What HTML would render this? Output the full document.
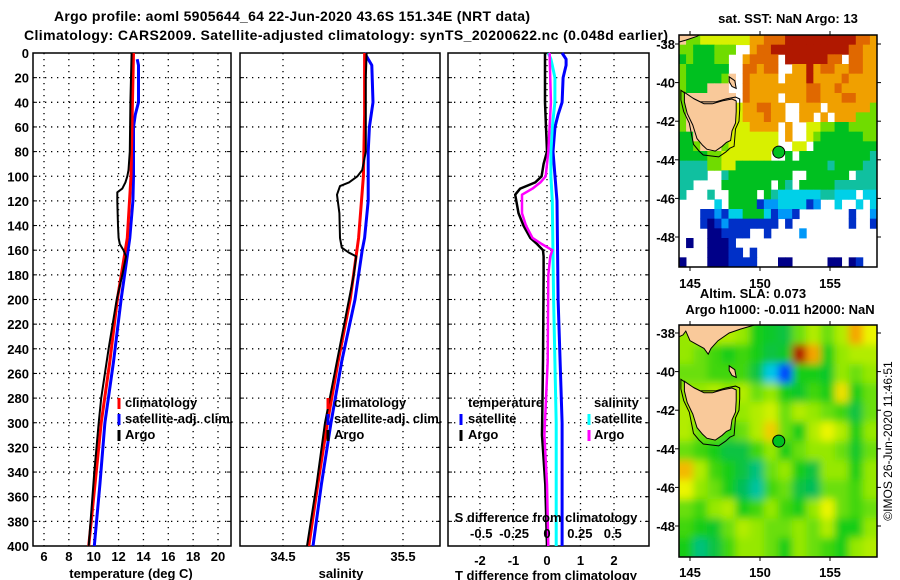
<!DOCTYPE html>
<html><head><meta charset="utf-8"><style>
html,body{margin:0;padding:0;background:#fff;}
svg{display:block;font-family:"Liberation Sans",sans-serif;font-weight:bold;}
</style></head><body>
<svg id="fig" width="900" height="580" viewBox="0 0 900 580" xmlns="http://www.w3.org/2000/svg">
<text x="292" y="21" text-anchor="middle" font-size="14" textLength="476">Argo profile: aoml 5905644_64 22-Jun-2020 43.6S 151.34E (NRT data)</text>
<text x="24" y="40" font-size="14" textLength="644">Climatology: CARS2009. Satellite-adjusted climatology: synTS_20200622.nc (0.048d earlier)</text>
<g id="plots"></g>
<defs>
<clipPath id="m1clip"><rect x="679" y="35" width="198" height="232"/></clipPath>
<clipPath id="m2clip"><rect x="679" y="325" width="198" height="232"/></clipPath>
<filter id="blur" x="-10%" y="-10%" width="120%" height="120%"><feGaussianBlur stdDeviation="4"/></filter>
</defs>
<text x="788" y="23" text-anchor="middle" font-size="13">sat. SST: NaN Argo: 13</text>
<text x="753" y="298" text-anchor="middle" font-size="13">Altim. SLA: 0.073</text>
<text x="780" y="314" text-anchor="middle" font-size="13">Argo h1000: -0.011 h2000: NaN</text>
<text transform="translate(892,441) rotate(-90)" text-anchor="middle" font-size="12" font-weight="normal">©IMOS 26-Jun-2020 11:46:51</text>
</svg>
<script>
// ---- profile data ----
const depthArgoT=[0,40,80,95,100,105,110,113,120,140,150,155,160,165,180,200,240,280,300,340,400];
const tempArgo=[13.05,12.95,12.9,12.8,12.7,12.55,12.3,11.9,11.9,11.95,12.0,12.1,12.4,12.6,12.3,11.85,11.2,10.6,10.4,10.05,9.6];
const depthClim=[0,50,100,150,200,250,300,350,400];
const tempClim=[13.2,13.1,13.0,12.7,11.9,11.3,10.6,10.1,9.6];
const depthSat=[5,10,40,50,60,100,120,150,200,250,300,350,400];
const tempSat=[13.5,13.6,13.6,13.35,13.2,13.2,13.15,12.9,12.2,11.6,10.9,10.5,10.05];
const depthArgoS=[0,20,80,95,100,105,108,115,130,150,158,162,165,180,200,250,300,350,400];
const salArgo=[35.197,35.19,35.19,35.16,35.12,35.05,34.975,34.95,34.97,34.975,34.99,35.05,35.11,35.09,35.05,34.95,34.85,34.78,34.70];
const salClim=[35.18,35.18,35.17,35.13,35.06,34.96,34.87,34.79,34.715];
const depthSatS=[0,10,40,60,80,120,150,160,200,250,300,350,400];
const salSat=[35.18,35.24,35.25,35.22,35.21,35.21,35.18,35.16,35.1,34.99,34.9,34.82,34.75];
const depthDiff=[0,40,60,80,90,100,105,110,115,130,140,150,155,160,165,180,250,310,350,400];
const dTArgo=[-0.06,-0.06,-0.03,0,-0.1,-0.16,-0.35,-0.8,-0.95,-0.85,-0.7,-0.5,-0.3,-0.12,-0.1,-0.1,-0.12,-0.15,-0.05,0];
const dSArgo=[0.02,0.03,0.02,0.01,0,-0.01,-0.05,-0.11,-0.19,-0.19,-0.16,-0.11,-0.04,0.04,0.025,0.01,0.005,-0.02,0,0.01];
const depthDiffSat=[0,5,10,20,40,50,60,80,100,120,200,300,400];
const dTSat=[0.45,0.57,0.57,0.48,0.45,0.33,0.24,0.18,0.24,0.3,0.33,0.45,0.45];
const dSSat=[0.01,0.03,0.04,0.06,0.06,0.05,0.04,0.03,0.03,0.04,0.05,0.07,0.07];
const depthTicks=[0,20,40,60,80,100,120,140,160,180,200,220,240,260,280,300,320,340,360,380,400];
const tempTicks=[6,8,10,12,14,16,18,20];
const salTicks=[34.5,35,35.5];
const dTTicks=[-2,-1,0,1,2];
const dSTicks=[-0.5,-0.25,0,0.25,0.5];
const dSTickLabels=['-0.5','-0.25','0','0.25','0.5'];

// ---- SST map data (0.5deg cells, rows from north) ----
const sstRows=[
"L66777777788999aaaaaaaaaa998",
"66555666  899aaaaaaaaaaa9988",
"5655566  89999 aaaaaa99 9988",
"6555555  99899  88a899889988",
"6555556L 98888 888a888898888",
"6555LLL  9888888889988988888",
"6LLLLLLL 98888 8889988899888",
"6LLLLLLL7889988  888 8888886",
"6LLLLLL77888988  88 8 888666",
"6LLLLLL7778888 8  7766556666",
"55LLLLL7777777 8  7655555566",
"556LLL67777777  77 555555555",
"5555667777777  5 55555555554",
"4444667755555555555554555544",
"4444  4555555555  555555 4444",
"44    5555555 54 555554444444",
"4   4  5555 5433333344333 33",
"     3 5555122333312  3  3 3",
"   11213355531221       1  2",
"   10121111111 1        1  1",
"    001111  1    2          ",
" 0  0001                    ",
"    00011 1                 ",
"0   0001111   00     00 01  "];
const sstColors={'0':'#000088','1':'#0030c8','2':'#0098f8','3':'#00d0e8','4':'#10c0a0','5':'#00c020','6':'#70dc00','7':'#d8f000','8':'#f0a000','9':'#e06800','a':'#b01800','L':'#f9c99a'};

// ---- SLA map data (1deg cells, rows from north) ----
const slaRows=[
[0.15,0.2,0.2,0.2,0.15,0.0,-0.05,-0.1,0.1,0.2,0.1,0.2,0.5,0.3],
[0.15,0.1,0.05,0,0.05,0,-0.1,-0.05,0.95,0.5,0.0,0.15,0.2,0.2],
[0.1,0.1,0.05,0.05,0.05,-0.1,-0.35,-0.6,0.0,0.0,-0.05,0.15,0.1,0.15],
[0.15,0.15,0.2,0.15,0.2,0.1,0.15,0.0,-0.05,0.05,0.0,0.35,0.0,0.1],
[0.2,0.15,0.15,0.15,0.15,0.2,0.25,0.1,0.2,0.15,0.1,0.05,-0.1,0.1],
[0.2,0.1,0.1,0.05,0.1,0.2,0.4,0.1,0.0,0.2,0.3,0.2,0.0,0.15],
[0.1,0.05,0.0,-0.1,-0.1,0.05,0.15,0.0,0.1,0.15,0.15,0.1,-0.05,0.1],
[0.45,0.2,0.05,0.0,-0.1,-0.2,0.1,0.15,0.0,-0.1,0.15,0.15,0.0,0.15],
[0.3,0.15,0.1,0.0,-0.15,-0.25,0.05,0.1,-0.1,-0.15,0.1,0.1,0.05,0.15],
[0.1,0.05,0.15,0.2,0.0,0.05,0.15,0.05,0.0,0.15,0.3,0.1,0.05,0.1],
[0.05,0.0,-0.05,0.1,0.2,0.15,0.1,0.1,0.15,0.1,0.2,0.0,0.0,0.15],
[0.0,-0.2,-0.1,0.05,0.15,0.15,0.1,0.0,0.15,0.1,0.05,0.0,0.15,0.2]];
const tasmania=[[144.6,-40.5],[145.3,-40.85],[146.0,-41.1],[146.6,-41.1],[147.3,-40.95],[148.0,-40.85],[148.3,-40.95],[148.3,-41.5],[148.25,-42.1],[148.0,-42.5],[147.9,-43.0],[147.6,-43.1],[147.3,-43.3],[146.8,-43.55],[146.2,-43.45],[145.9,-43.25],[145.5,-42.9],[145.2,-42.2],[144.8,-41.6],[144.6,-41.0]];
const mainland=[[144.2,-37.4],[144.2,-38.2],[144.5,-38.1],[144.7,-37.9],[145.0,-38.4],[145.5,-38.6],[146.0,-38.8],[146.3,-39.1],[146.5,-38.8],[147.0,-38.4],[147.8,-38.0],[148.6,-37.8],[150.0,-37.5],[150.0,-37.4]];
const mainlandSST=[[144.2,-37.4],[144.2,-37.9],[144.7,-37.8],[145.5,-37.6],[146.0,-37.4]];
const flinders=[[147.8,-39.7],[148.2,-39.9],[148.3,-40.3],[148.0,-40.2],[147.8,-39.95]];
const argoPos=[151.34,-43.6];
const lonTicks=[145,150,155];
const latTicks=[-38,-40,-42,-44,-46,-48];

const NS='http://www.w3.org/2000/svg';
const root=document.getElementById('plots');
function mk(tag,attrs,parent){const e=document.createElementNS(NS,tag);for(const k in attrs)e.setAttribute(k,attrs[k]);(parent||root).appendChild(e);return e;}
const yTop=53,yBot=546;
const yD=d=>yTop+d*(yBot-yTop)/400;
function panel(x0,x1,name){
  const g=mk('g',{});
  
  
  return g;
}
function gridAndFrame(g,x0,x1,xs,fx){
  depthTicks.forEach(d=>{if(d>0&&d<400){const l=mk('line',{x1:x0,x2:x1,y1:yD(d),y2:yD(d),stroke:'#000','stroke-width':1.3,'stroke-dasharray':'1.3,4.7'},g);
    }
    mk('line',{x1:x0,x2:x0+4,y1:yD(d),y2:yD(d),stroke:'#000','stroke-width':1},g);mk('line',{x1:x1-4,x2:x1,y1:yD(d),y2:yD(d),stroke:'#000','stroke-width':1},g);});
  xs.forEach(v=>{const x=fx(v);const l=mk('line',{x1:x,x2:x,y1:yTop,y2:yBot,stroke:'#000','stroke-width':1.3,'stroke-dasharray':'1.3,4.7'},g);
    });
  const r=mk('rect',{x:x0,y:yTop,width:x1-x0,height:yBot-yTop,fill:'none',stroke:'#000','stroke-width':1.5},g);
  
}
function line(g,xs,ds,fx,col,w,name){
  const p=mk('polyline',{points:xs.map((v,i)=>fx(v).toFixed(1)+','+yD(ds[i]).toFixed(1)).join(' '),fill:'none',stroke:col,'stroke-width':w,'stroke-linejoin':'round'},g);
  
}
function txt(g,x,y,s,name,anchor,size,tl){
  const t=mk('text',{x:x,y:y,'font-size':size||13,'text-anchor':anchor||'start'},g);
  if(tl)t.setAttribute('textLength',tl);
  t.textContent=s;return t;
}
function legMark(g,x,y,col){const l=mk('line',{x1:x,x2:x,y1:y-11,y2:y,stroke:col,'stroke-width':3},g);
  }

// Panel 1 temperature
const fT=t=>44+(t-6)*(218-44)/14;
const g1=panel(33,231,'temperature-panel');
gridAndFrame(g1,33,231,tempTicks,fT);
line(g1,tempSat,depthSat,fT,'#0000ff',3,'temp-satellite-line');
line(g1,tempClim,depthClim,fT,'#ff0000',3,'temp-climatology-line');
line(g1,tempArgo,depthArgoT,fT,'#000',2,'temp-argo-line');
depthTicks.forEach(d=>txt(g1,29,yD(d)+5,String(d),'y-tick-label','end'));
tempTicks.forEach(t=>txt(g1,fT(t),561,String(t),'x-tick-label','middle'));
txt(g1,131,578,'temperature (deg C)','x-axis-title','middle');
legMark(g1,119,409,'#ff0000');legMark(g1,119,425,'#0000ff');legMark(g1,119,441,'#000');
txt(g1,125,407,'climatology','legend-climatology');txt(g1,125,423,'satellite-adj. clim.','legend-satellite');txt(g1,125,439,'Argo','legend-argo');

// Panel 2 salinity
const fS=s=>343+(s-35)*120;
const g2=panel(240,440,'salinity-panel');
gridAndFrame(g2,240,440,salTicks,fS);
line(g2,salSat,depthSatS,fS,'#0000ff',3,'sal-satellite-line');
line(g2,salClim,depthClim,fS,'#ff0000',3,'sal-climatology-line');
line(g2,salArgo,depthArgoS,fS,'#000',2,'sal-argo-line');
salTicks.forEach(s=>txt(g2,fS(s),561,String(s),'x-tick-label','middle'));
txt(g2,341,578,'salinity','x-axis-title','middle');
legMark(g2,328,409,'#ff0000');legMark(g2,328,425,'#0000ff');legMark(g2,328,441,'#000');
txt(g2,334,407,'climatology','legend-climatology');txt(g2,334,423,'satellite-adj. clim.','legend-satellite');txt(g2,334,439,'Argo','legend-argo');

// Panel 3 differences
const fdT=v=>547+v*33.5;
const fdS=v=>547+v*131.5;
const g3=panel(448,649,'difference-panel');
gridAndFrame(g3,448,649,dTTicks,fdT);
line(g3,dTSat,depthDiffSat,fdT,'#0000ff',3,'dT-satellite-line');
line(g3,dSSat,depthDiffSat,fdS,'#00ffff',3,'dS-satellite-line');
line(g3,dTArgo,depthDiff,fdT,'#000',2.5,'dT-argo-line');
line(g3,dSArgo,depthDiff,fdS,'#ff00ff',2.5,'dS-argo-line');
dTTicks.forEach(v=>txt(g3,fdT(v),565,String(v),'x-tick-label','middle'));
dSTicks.forEach((v,i)=>txt(g3,fdS(v),538,dSTickLabels[i],'s-tick-label','middle'));
txt(g3,546,522,'S difference from climatology','s-axis-title','middle');
txt(g3,546,580,'T difference from climatology','x-axis-title','middle');
txt(g3,468,407,'temperature','legend-title-temperature');
legMark(g3,461,425,'#0000ff');legMark(g3,461,441,'#000');
txt(g3,468,423,'satellite','legend-dT-satellite');txt(g3,468,439,'Argo','legend-dT-argo');
txt(g3,594,407,'salinity','legend-title-salinity');
legMark(g3,589,425,'#00ffff');legMark(g3,589,441,'#ff00ff');
txt(g3,594,423,'satellite','legend-dS-satellite');txt(g3,594,439,'Argo','legend-dS-argo');

// ---- maps ----
const mx0=679,mx1=877,pxLon=14;
const fx=lon=>690+(lon-145)*pxLon;
function latScale(latTopY){const pxLat=19.3;return lat=>latTopY+(-38-lat)*pxLat;}
function drawLand(g,fx2,fy,main){
  const outline=mk('polygon',{points:tasmania.map(p=>fx2(p[0]+(p[0]<146.5?-0.25:0.25))+','+fy(p[1]+(p[1]<-42.5?-0.3:0.1))).join(' '),fill:'none',stroke:'#000','stroke-width':1},g);
  
  [[tasmania,'tasmania'],[main,'mainland'],[flinders,'flinders-island']].forEach(([poly,n])=>{
    const p=mk('polygon',{points:poly.map(q=>fx2(q[0]).toFixed(1)+','+fy(q[1]).toFixed(1)).join(' '),fill:'#f9c99a',stroke:'#000','stroke-width':1},g);
    });
}
function mapAxes(g,yT,yB,fy,labelY){
  latTicks.forEach(l=>{const y=fy(l);
    mk('line',{x1:mx0-4,x2:mx0,y1:y,y2:y,stroke:'#000'},g);mk('line',{x1:mx1,x2:mx1+4,y1:y,y2:y,stroke:'#000'},g);
    txt(g,675,y+5,String(l),'lat-tick-label','end');});
  lonTicks.forEach(l=>{const x=fx(l);mk('line',{x1:x,x2:x,y1:yB,y2:yB+4,stroke:'#000'},g);mk('line',{x1:x,x2:x,y1:yT-4,y2:yT,stroke:'#000'},g);
    txt(g,x,labelY,String(l),'lon-tick-label','middle');});
  const r=mk('rect',{x:mx0,y:yT,width:mx1-mx0,height:yB-yT,fill:'none',stroke:'#000','stroke-width':1.5},g);
  
}
function argoMarker(g,fy){
  const c=mk('circle',{cx:fx(argoPos[0]),cy:fy(argoPos[1]),r:6,fill:'#00c020',stroke:'#000','stroke-width':1},g);
  
}
// SST map
const gm1=mk('g',{'clip-path':'url(#m1clip)'});


const fy1=latScale(44);
const cw=198/28,ch=232/24;
sstRows.forEach((row,r)=>{const s=row.padEnd(28,' ').slice(0,28);
  for(let c=0;c<28;c++){const k=s[c];if(k===' ')continue;
    const rc=mk('rect',{x:(mx0+c*cw).toFixed(2),y:(35+r*ch).toFixed(2),width:(cw+0.4).toFixed(2),height:(ch+0.4).toFixed(2),fill:sstColors[k]},gm1);
    
    }});
drawLand(gm1,fx,fy1,mainlandSST);
argoMarker(gm1,fy1);
const ga1=mk('g',{});


mapAxes(ga1,35,267,fy1,288);

// SLA map
function slaColor(v){
  const st=[[-1,[0,0,160]],[-0.6,[0,64,255]],[-0.35,[0,200,230]],[-0.15,[0,190,90]],[0,[20,205,20]],[0.15,[150,232,0]],[0.3,[235,245,0]],[0.5,[245,165,0]],[0.75,[225,80,0]],[1,[165,0,0]]];
  v=Math.max(-1,Math.min(1,v));
  for(let i=1;i<st.length;i++){if(v<=st[i][0]){const a=st[i-1],b=st[i],t=(v-a[0])/(b[0]-a[0]);
    return 'rgb('+a[1].map((x,j)=>Math.round(x+(b[1][j]-x)*t)).join(',')+')';}}
  return 'rgb(165,0,0)';
}
const gm2=mk('g',{'clip-path':'url(#m2clip)'});


const fy2=latScale(333);
const gf=mk('g',{filter:'url(#blur)'},gm2);
const cw2=198/14,ch2=232/12;
slaRows.forEach((row,r)=>row.forEach((v,c)=>{
  const x=mx0+c*cw2-(c===0?10:0),y=325+r*ch2-(r===0?10:0);
  const w=cw2+0.5+(c===0?10:0)+(c===13?10:0),h=ch2+0.5+(r===0?10:0)+(r===11?10:0);
  const rc=mk('rect',{x:x.toFixed(2),y:y.toFixed(2),width:w.toFixed(2),height:h.toFixed(2),fill:slaColor(v)},gf);
  
  }));
drawLand(gm2,fx,fy2,mainland);
argoMarker(gm2,fy2);
const ga2=mk('g',{});


mapAxes(ga2,325,557,fy2,577);
</script>
</body></html>
